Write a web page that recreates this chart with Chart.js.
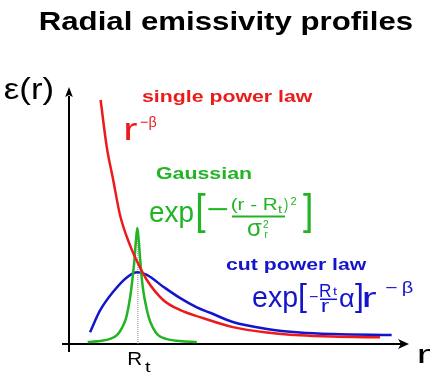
<!DOCTYPE html>
<html><head><meta charset="utf-8">
<script src="https://cdn.jsdelivr.net/npm/chart.js@4/dist/chart.umd.min.js"></script>
<style>html,body{margin:0;padding:0;background:#fff}#wrap{width:440px;height:380px;position:relative}</style>
</head><body><div id="wrap"><canvas id="c" width="440" height="380"></canvas></div>
<script>
// ---- data (r in arbitrary units, emissivity in arbitrary units) ----
const seriesNames = ['single power law', 'Gaussian', 'cut power law'];
const redR  = [0.93,1.11,1.30,1.50,1.79,2.01,2.29,2.77,3.26,3.85,4.82,5.82,6.79,7.76,9.15];
const redE  = [9.53,7.70,6.41,5.04,3.87,3.20,2.50,1.72,1.33,1.05,0.66,0.45,0.34,0.29,0.26];
const blueR = [0.62,0.91,1.30,1.70,2.01,2.29,2.77,3.26,3.76,4.15,4.82,5.82,6.79,7.76,9.49];
const blueE = [0.46,1.30,2.04,2.60,2.80,2.70,2.24,1.80,1.43,1.22,0.86,0.59,0.45,0.39,0.35];
const greenR = [0.55,0.91,1.21,1.41,1.56,1.68,1.76,1.82,1.88,1.93,1.97,2.01,2.05,2.09,2.13,2.19,2.26,2.35,2.47,2.62,2.85,3.26,3.76];
const greenE = [0.08,0.12,0.20,0.35,0.63,1.02,1.52,2.03,2.70,3.36,4.06,4.53,4.06,3.36,2.70,2.03,1.52,1.02,0.63,0.35,0.20,0.12,0.08];
const rtValue = 2.01;          // position of R_t on the r axis
const rtPeak = 4.53;           // height of the dotted marker
const xTickLabel = ['R', 't']; // tick label R_t
const titleText = 'Radial emissivity profiles';
const yAxisLabel = 'ε(r)';
const xAxisLabel = 'r';

const pts = (xs, ys) => xs.map((x, i) => ({x, y: ys[i]}));
const FONT = '"Liberation Sans", Arial, Helvetica, sans-serif';
const RED = '#ec1b1b', GREEN = '#22b425', BLUE = '#1414cc';

function fitText(ctx, str, x0, x1, base, size, weight, color) {
  ctx.save();
  ctx.font = weight + ' ' + size + 'px ' + FONT;
  ctx.fillStyle = color;
  ctx.textBaseline = 'alphabetic';
  ctx.textAlign = 'left';
  const m = ctx.measureText(str);
  const l = m.actualBoundingBoxLeft, r = m.actualBoundingBoxRight;
  const s = (x1 - x0) / (l + r);
  ctx.translate(x0 + l * s, base);
  ctx.scale(s, 1);
  ctx.fillText(str, 0, 0);
  ctx.restore();
}

const decor = {
  id: 'decor',
  beforeDatasetsDraw(chart) {
    const ctx = chart.ctx, xs = chart.scales.x, ys = chart.scales.y;
    const x0 = xs.getPixelForValue(0), y0 = ys.getPixelForValue(0);
    const yTop = ys.getPixelForValue(10), xEnd = xs.getPixelForValue(10);
    ctx.save();
    ctx.strokeStyle = '#000'; ctx.fillStyle = '#000'; ctx.lineWidth = 2;
    // y axis
    ctx.beginPath(); ctx.moveTo(x0, y0 + 8); ctx.lineTo(x0, yTop + 8); ctx.stroke();
    ctx.beginPath(); ctx.moveTo(x0, yTop - 1); ctx.lineTo(x0 - 3.8, yTop + 9); ctx.lineTo(x0, yTop + 7); ctx.lineTo(x0 + 3.8, yTop + 9); ctx.closePath(); ctx.fill();
    // x axis
    ctx.beginPath(); ctx.moveTo(x0 - 7, y0); ctx.lineTo(xEnd - 8, y0); ctx.stroke();
    ctx.beginPath(); ctx.moveTo(xEnd, y0); ctx.lineTo(xEnd - 11, y0 - 5); ctx.lineTo(xEnd - 8, y0); ctx.lineTo(xEnd - 11, y0 + 5); ctx.closePath(); ctx.fill();
    // dotted R_t marker
    const xr = xs.getPixelForValue(rtValue);
    ctx.strokeStyle = '#888'; ctx.lineWidth = 1; ctx.setLineDash([1, 1]);
    ctx.beginPath(); ctx.moveTo(xr + 0.5, y0); ctx.lineTo(xr + 0.5, ys.getPixelForValue(rtPeak)); ctx.stroke();
    ctx.restore();
  },
  afterDraw(chart) {
    const ctx = chart.ctx, xs = chart.scales.x;
    const xr = xs.getPixelForValue(rtValue);
    // title and axis labels
    fitText(ctx, titleText, 40, 412, 30, 25, 'bold', '#000');
    fitText(ctx, yAxisLabel, 5, 53, 98.5, 30, 'normal', '#000');
    fitText(ctx, xTickLabel[0], xr - 9, xr + 4.4, 365, 18.5, 'normal', '#000');
    fitText(ctx, xTickLabel[1], xr + 7.7, xr + 14.4, 371.5, 15, 'normal', '#000');
    fitText(ctx, xAxisLabel, 418.3, 430, 363.3, 25, 'normal', '#000');
    // single power law
    fitText(ctx, seriesNames[0], 142, 313, 102, 16, 'bold', RED);
    fitText(ctx, 'r', 126, 137, 140, 31, 'normal', RED);
    fitText(ctx, '−β', 140, 157, 127, 15, 'normal', RED);
    // Gaussian
    fitText(ctx, seriesNames[1], 156, 251, 178.5, 16, 'bold', GREEN);
    fitText(ctx, 'exp', 150, 193, 222, 29, 'normal', GREEN);
    fitText(ctx, '[', 198, 206, 224, 42, 'normal', GREEN);
    fitText(ctx, '−', 208, 228, 219, 29, 'normal', GREEN);
    fitText(ctx, '(r - R', 232, 277, 210, 16, 'normal', GREEN);
    fitText(ctx, 't', 278, 282, 213, 11, 'normal', GREEN);
    fitText(ctx, ')', 284, 288, 210, 16, 'normal', GREEN);
    fitText(ctx, '2', 290.5, 296.5, 204.5, 11, 'normal', GREEN);
    fitText(ctx, 'σ', 248, 262, 236, 24, 'normal', GREEN);
    fitText(ctx, '2', 263, 268.5, 227.5, 11, 'normal', GREEN);
    fitText(ctx, 'r', 264.5, 268.5, 238, 10, 'normal', GREEN);
    fitText(ctx, ']', 303, 311, 224, 42, 'normal', GREEN);
    ctx.save(); ctx.strokeStyle = GREEN; ctx.lineWidth = 2;
    ctx.beginPath(); ctx.moveTo(232, 216.5); ctx.lineTo(285, 216.5); ctx.stroke(); ctx.restore();
    // cut power law
    fitText(ctx, seriesNames[2], 226, 367, 270, 16, 'bold', BLUE);
    fitText(ctx, 'exp', 253, 297, 306.7, 29, 'normal', BLUE);
    fitText(ctx, '[', 300, 307, 306.3, 32, 'normal', BLUE);
    fitText(ctx, '−', 309, 318, 301.5, 16, 'normal', BLUE);
    fitText(ctx, 'R', 320, 331.5, 296.7, 18, 'normal', BLUE);
    fitText(ctx, 't', 333, 337, 295, 11, 'normal', BLUE);
    fitText(ctx, 'r', 322, 330, 311.7, 19, 'normal', BLUE);
    fitText(ctx, 'α', 340, 354, 306.7, 25, 'normal', BLUE);
    fitText(ctx, ']', 355, 362, 306.3, 32, 'normal', BLUE);
    fitText(ctx, 'r', 363, 376, 306.7, 28, 'normal', BLUE);
    fitText(ctx, '−', 385, 397, 293.3, 16, 'normal', BLUE);
    fitText(ctx, 'β', 403, 413, 293.3, 16, 'normal', BLUE);
    ctx.save(); ctx.strokeStyle = BLUE; ctx.lineWidth = 1.5;
    ctx.beginPath(); ctx.moveTo(320, 299.3); ctx.lineTo(337, 299.3); ctx.stroke(); ctx.restore();
  }
};

const common = {showLine: true, pointRadius: 0, borderWidth: 2.5, fill: false, cubicInterpolationMode: 'monotone'};
new Chart(document.getElementById('c'), {
  type: 'scatter',
  data: {
    datasets: [
      Object.assign({label: seriesNames[0], data: pts(redR, redE), borderColor: RED, order: 1}, common),
      Object.assign({label: seriesNames[1], data: pts(greenR, greenE), borderColor: GREEN, order: 2}, common),
      Object.assign({label: seriesNames[2], data: pts(blueR, blueE), borderColor: BLUE, order: 3}, common)
    ]
  },
  options: {
    responsive: false, animation: false, events: [],
    layout: {padding: {left: 69, right: 31, top: 88, bottom: 36}},
    scales: {
      x: {type: 'linear', min: 0, max: 10, display: false},
      y: {type: 'linear', min: 0, max: 10, display: false}
    },
    plugins: {legend: {display: false}, tooltip: {enabled: false}, title: {display: false}}
  },
  plugins: [decor]
});
</script>
</body></html>
